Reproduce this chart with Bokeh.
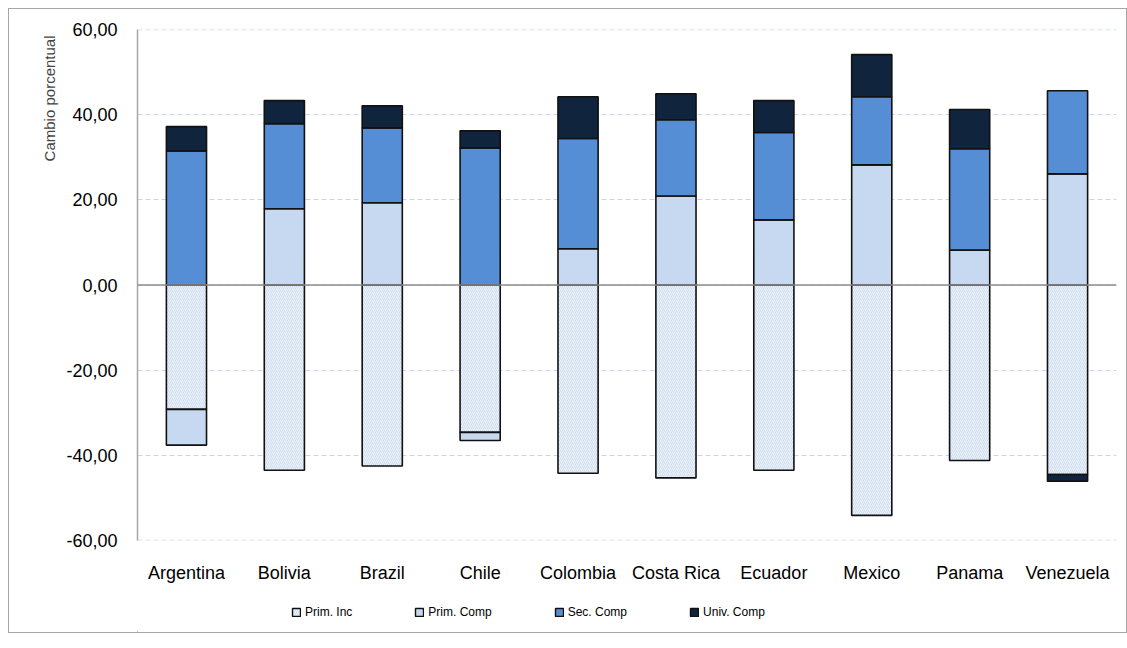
from bokeh.plotting import figure
from bokeh.layouts import column
from bokeh.models import (Range1d, FixedTicker, CustomJSTickFormatter, Span, Legend,
                          LegendItem, Title, ColumnDataSource)
from bokeh.embed import file_html
from bokeh.resources import INLINE

countries = ["Argentina", "Bolivia", "Brazil", "Chile", "Colombia", "Costa Rica",
             "Ecuador", "Mexico", "Panama", "Venezuela"]
prim_inc = [-29.2, -43.5, -42.5, -34.6, -44.2, -45.3, -43.5, -54.1, -41.2, -44.5]
prim_comp = [-8.4, 17.9, 19.3, -1.9, 8.5, 20.9, 15.3, 28.2, 8.2, 26.1]
sec_comp = [31.5, 20.0, 17.6, 32.2, 25.9, 17.9, 20.5, 16.0, 23.8, 19.5]
univ_comp = [5.7, 5.4, 5.2, 4.0, 9.8, 6.1, 7.5, 9.9, 9.2, -1.6]
series_names = ["Prim. Inc", "Prim. Comp", "Sec. Comp", "Univ. Comp"]
y_ticks = [-60, -40, -20, 0, 20, 40, 60]

FONT = "Liberation Sans"
GRID = "#c9d5ec"

p = figure(x_range=countries, y_range=Range1d(-60, 60), width=1117, height=585,
           output_backend="svg", toolbar_location=None,
           min_border_left=128, min_border_right=10, min_border_top=20, min_border_bottom=54)
p.outline_line_color = None
p.background_fill_color = "white"

# axes
p.yaxis.ticker = FixedTicker(ticks=y_ticks)
p.yaxis.formatter = CustomJSTickFormatter(code="return tick.toFixed(2).replace('.', ',');")
p.yaxis.axis_line_color = "#a6a6a6"
p.yaxis.axis_line_width = 1.5
p.yaxis.major_tick_line_color = None
p.yaxis.minor_tick_line_color = None
p.yaxis.major_label_standoff = 14
p.yaxis.major_label_text_font = FONT
p.yaxis.major_label_text_font_size = "18px"
p.yaxis.major_label_text_color = "black"

p.xaxis.axis_line_color = None
p.xaxis.major_tick_line_color = None
p.xaxis.minor_tick_line_color = None
p.xaxis.major_label_standoff = 16
p.xaxis.major_label_text_font = FONT
p.xaxis.major_label_text_font_size = "18px"
p.xaxis.major_label_text_color = "black"

p.xgrid.grid_line_color = None
p.ygrid.grid_line_color = GRID
p.ygrid.grid_line_dash = "5 3"
p.ygrid.grid_line_width = 1

# gridlines at the range ends (top and bottom ticks)
for loc in (y_ticks[0], y_ticks[-1]):
    p.add_layout(Span(location=loc, dimension="width", line_color=GRID,
                      line_dash="5 3", line_width=1.5))

# stacking
n = len(countries)
pos = [0.0] * n
neg = [0.0] * n
styles = [
    dict(fill_color="#edf3fb", hatch_pattern="/", hatch_color="#b9cde6", hatch_scale=4,
         hatch_weight=0.6),
    dict(fill_color="#c6d9f1"),
    dict(fill_color="#558ed5"),
    dict(fill_color="#10243e"),
]
for vals, st in zip([prim_inc, prim_comp, sec_comp, univ_comp], styles):
    bottoms, tops = [], []
    for i, v in enumerate(vals):
        if v >= 0:
            bottoms.append(pos[i]); tops.append(pos[i] + v); pos[i] += v
        else:
            tops.append(neg[i]); bottoms.append(neg[i] + v); neg[i] += v
    src = ColumnDataSource(dict(x=countries, bottom=bottoms, top=tops))
    p.vbar(x="x", bottom="bottom", top="top", width=0.41, source=src,
           line_color="#111111", line_width=1.6, **st)

zero = Span(location=0, dimension="width", line_color="#8c8c8c", line_width=1.5)
p.add_layout(zero)

title = Title(text="Cambio porcentual", align="right", text_font=FONT,
              text_font_size="15px", text_font_style="normal", standoff=12, offset=6)
p.add_layout(title, "left")

# legend strip (proxy glyphs lie outside the visible range)
leg = figure(width=1117, height=38, output_backend="svg", toolbar_location=None,
             x_range=Range1d(0, 1), y_range=Range1d(0, 1), x_axis_type=None, y_axis_type=None,
             min_border=0)
leg.outline_line_color = None
leg.xgrid.grid_line_color = None
leg.ygrid.grid_line_color = None
leg_renderers = []
for st in styles:
    leg_renderers.append(leg.vbar(x=[-50], bottom=[-50], top=[-49], width=0.5,
                                  line_color="#111111", line_width=1.4, **st))
legend = Legend(items=[LegendItem(label=nm, renderers=[r]) for nm, r in zip(series_names, leg_renderers)],
                orientation="horizontal", location=(154, 13), spacing=62,
                glyph_width=10, glyph_height=10, label_standoff=4,
                label_text_font=FONT, label_text_font_size="12px", label_text_color="black",
                border_line_color=None, background_fill_alpha=0, margin=0, padding=6)
leg.add_layout(legend, "center")

layout = column(p, leg, spacing=0,
                styles={"border": "1px solid #a6a6a6", "margin-left": "8px", "margin-top": "8px"})

open("out.html", "w").write(file_html(layout, INLINE))
